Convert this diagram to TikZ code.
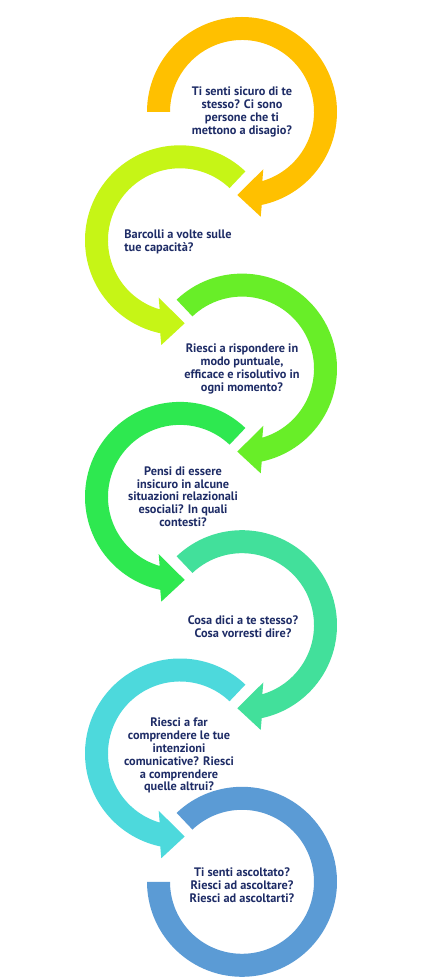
\documentclass[tikz,border=0pt]{standalone}
\usepackage{fontspec}
\setmainfont{PT Sans}
\usepackage{tikz}
\usetikzlibrary{positioning}
\usepackage{xcolor}
\definecolor{amber}{HTML}{FFC000}
\definecolor{lime}{HTML}{C6F516}
\definecolor{leaf}{HTML}{68EE28}
\definecolor{grass}{HTML}{2EE850}
\definecolor{mint}{HTML}{42E09B}
\definecolor{aqua}{HTML}{4DD9DC}
\definecolor{sky}{HTML}{5B9BD5}
\definecolor{ink}{HTML}{1E2C66}

\tikzset{
  question/.style={text=ink, align=center, inner sep=0pt,
    font=\bfseries\fontsize{12.3}{12.8}\selectfont},
}

% ring turning clockwise, arrow at the bottom pointing left: #1 colour, #2 centre, #3 start angle
\newcommand{\turncw}[3]{%
  \fill[#1, shift={#2}] (#3:95) arc[start angle=#3, end angle=-78, radius=95]
    -- (18.7,-104.7) -- (-4.7,-83) -- (21.3,-57.3) -- (-73.6:72)
    arc[start angle=-73.6, end angle=#3, radius=72] -- cycle;}
% ring turning anticlockwise, arrow at the bottom pointing right
\newcommand{\turnccw}[3]{%
  \fill[#1, shift={#2}] (#3:95) arc[start angle=#3, end angle=258, radius=95]
    -- (-18.7,-104.7) -- (4.7,-83) -- (-21.3,-57.3) -- (253.6:72)
    arc[start angle=253.6, end angle=#3, radius=72] -- cycle;}

\begin{document}
\begin{tikzpicture}[x=1pt, y=1pt]
  \fill[white] (0,0) rectangle (421,980);
  \useasboundingbox (0,0) rectangle (421,980);

  % the rings
  \turncw{amber}{(242,868)}{180}
  \turnccw{lime}{(180,739.7)}{46.5}
  \turncw{leaf}{(242,611.4)}{133.5}
  \turnccw{grass}{(180,483.1)}{46.5}
  \turncw{mint}{(242,354.8)}{133.5}
  \turnccw{aqua}{(180,226.5)}{46.5}
  \fill[sky, shift={(242,98.2)}] (133.5:95) arc[start angle=133.5, end angle=-180, radius=95]
    -- (180:72) arc[start angle=-180, end angle=133.5, radius=72] -- cycle;

  % the questions
  \node[question] (sicuro) at (242,868) {Ti senti sicuro di te\\stesso? Ci sono\\persone che ti\\mettono a disagio?};
  \node[question, align=left] (barcolli) at (178,738.3) {Barcolli a volte sulle\\tue capacità?};
  \node[question] (rispondere) at (242,611) {Riesci a rispondere in\\modo puntuale,\\efficace e risolutivo in\\ogni momento?};
  \node[question] (insicuro) at (183,483.3) {Pensi di essere\\insicuro in alcune\\situazioni relazionali\\esociali? In quali\\contesti?};
  \node[question] (dici) at (243,353.3) {Cosa dici a te stesso?\\Cosa vorresti dire?};
  \node[question] (intenzioni) at (179,224.2) {Riesci a far\\comprendere le tue\\intenzioni\\comunicative? Riesci\\a comprendere\\quelle altrui?};
  \node[question] (ascolto) at (242,95) {Ti senti ascoltato?\\Riesci ad ascoltare?\\Riesci ad ascoltarti?};
\end{tikzpicture}
\end{document}
